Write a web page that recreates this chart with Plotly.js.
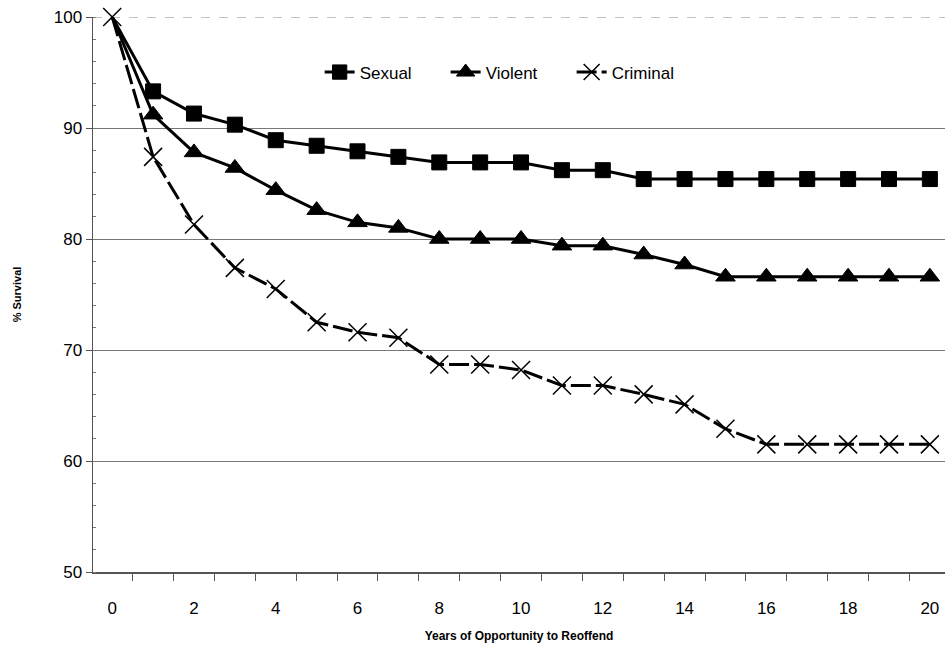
<!DOCTYPE html>
<html>
<head>
<meta charset="utf-8">
<script src="https://cdn.plot.ly/plotly-3.0.1.min.js"></script>
<style>html,body{margin:0;padding:0;background:#fff;}#chart{width:945px;height:646px;}</style>
</head>
<body>
<div id="chart"></div>
<script>
const years = [0,1,2,3,4,5,6,7,8,9,10,11,12,13,14,15,16,17,18,19,20];
const sexual = [100,93.3,91.3,90.3,88.9,88.4,87.9,87.4,86.9,86.9,86.9,86.2,86.2,85.4,85.4,85.4,85.4,85.4,85.4,85.4,85.4];
const violent = [100,91.2,87.8,86.4,84.4,82.6,81.5,81.0,80.0,80.0,80.0,79.4,79.4,78.6,77.7,76.6,76.6,76.6,76.6,76.6,76.6];
const criminal = [100,87.4,81.3,77.4,75.5,72.5,71.6,71.1,68.7,68.7,68.2,66.8,66.8,66.0,65.1,62.9,61.5,61.5,61.5,61.5,61.5];
const xTickLabels = ['0','2','4','6','8','10','12','14','16','18','20'];
const yTicks = [50,60,70,80,90,100];

const sizes = n => years.map((_, i) => i === 0 ? 0 : n);

const traces = [
  {x: years, y: sexual, name: 'Sexual', mode: 'lines+markers', cliponaxis: false,
   line: {color: '#000', width: 3},
   marker: {symbol: 'square', size: sizes(15), color: '#000', opacity: 1, line: {color: '#000', width: 1}}},
  {x: years, y: violent, name: 'Violent', mode: 'lines+markers', cliponaxis: false,
   line: {color: '#000', width: 3},
   marker: {symbol: 'triangle-up', size: sizes(17), color: '#000', opacity: 1, line: {color: '#000', width: 1}}},
  {x: years, y: criminal, name: 'Criminal', mode: 'lines+markers', cliponaxis: false,
   line: {color: '#000', width: 3, dash: '20px,5px'},
   marker: {symbol: 'x-thin-open', size: 18, color: '#000', opacity: 1, line: {color: '#000', width: 1.5}}}
];

const layout = {
  width: 945, height: 646,
  margin: {l: 93, r: 0, t: 17, b: 74},
  paper_bgcolor: '#fff', plot_bgcolor: '#fff',
  font: {family: 'Liberation Sans, Arial, sans-serif', color: '#000'},
  showlegend: true,
  legend: {orientation: 'h', x: 0.266, y: 0.9, xanchor: 'left', yanchor: 'middle',
           font: {size: 17, color: '#000'}, bgcolor: 'rgba(0,0,0,0)',
           entrywidth: 81, entrywidthmode: 'pixels', itemwidth: 30},
  shapes: [{type: 'line', xref: 'paper', x0: 0, x1: 1, yref: 'y', y0: 100, y1: 100,
            line: {color: '#888', width: 1, dash: 'dash'}, layer: 'below'}],
  xaxis: {
    range: [-0.47, 20.37],
    tickmode: 'array',
    tickvals: xTickLabels.map(Number),
    ticktext: xTickLabels,
    ticks: '', ticklabelstandoff: 20,
    tickfont: {size: 17, color: '#000'},
    showgrid: false, zeroline: false,
    showline: true, linecolor: '#555', linewidth: 1.5,
    minor: {tick0: 0.5, dtick: 1, ticks: 'outside', ticklen: 7, tickcolor: '#555', tickwidth: 1, showgrid: false},
    title: {text: '<b>Years of Opportunity to Reoffend</b>', font: {size: 12, color: '#000'}, standoff: 14}
  },
  yaxis: {
    range: [50, 100],
    tickmode: 'array', tickvals: yTicks,
    ticks: 'outside', ticklen: 6, tickcolor: '#555',
    tickfont: {size: 17, color: '#000'},
    showgrid: true, gridcolor: '#777', gridwidth: 1,
    zeroline: false,
    showline: true, linecolor: '#555', linewidth: 1.5,
    minor: {dtick: 2, ticks: 'inside', ticklen: 3, tickcolor: '#777', showgrid: false},
    title: {text: '<b>% Survival</b>', font: {size: 11, color: '#000'}, standoff: 30}
  }
};

Plotly.newPlot('chart', traces, layout, {displayModeBar: false, staticPlot: true});
</script>
</body>
</html>
